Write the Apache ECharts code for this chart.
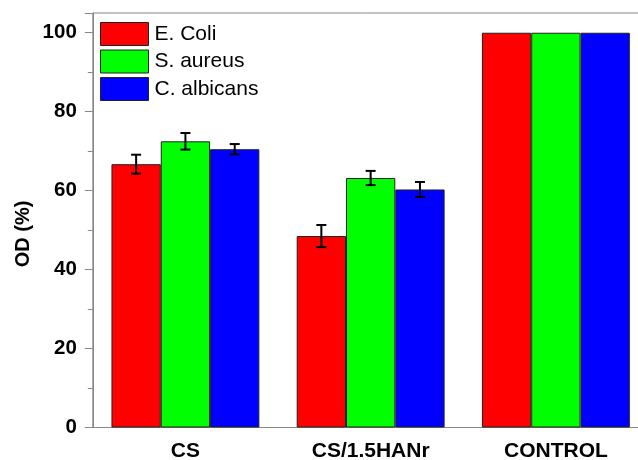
<!DOCTYPE html>
<html>
<head>
<meta charset="utf-8">
<script src="https://cdn.jsdelivr.net/npm/echarts@6/dist/echarts.min.js"></script>
<style>html,body{margin:0;padding:0;background:#fff}#c{width:638px;height:460px}</style>
</head>
<body>
<div id="c"></div>
<script>
const categories = ['CS', 'CS/1.5HANr', 'CONTROL'];
const seriesNames = ['E. Coli', 'S. aureus', 'C. albicans'];
const ecoli = [66.7, 48.5, 100];
const saureus = [72.5, 63.2, 100];
const calbicans = [70.5, 60.3, 100];
const ecoliErr = [2.4, 2.8, 0];
const saureusErr = [2.1, 1.8, 0];
const calbicansErr = [1.3, 1.9, 0];
const yTicks = [0, 20, 40, 60, 80, 100];

const colors = ['#ff0000', '#00ff00', '#0000ff'];
const values = [ecoli, saureus, calbicans];
const errs = [ecoliErr, saureusErr, calbicansErr];
const BAR_W = 49.3;
const font = '"Liberation Sans", Arial, sans-serif';

const chart = echarts.init(document.getElementById('c'));

const barSeries = values.map((v, i) => ({
  name: seriesNames[i],
  type: 'bar',
  xAxisIndex: 0,
  data: v,
  barWidth: BAR_W,
  barGap: '0%',
  itemStyle: { color: colors[i], borderColor: '#222', borderWidth: 1 },
  z: 2
}));

const errSeries = values.map((v, i) => ({
  type: 'custom',
  xAxisIndex: 0,
  data: v.map((val, k) => [k, val + errs[i][k], val - errs[i][k]]).filter((d, k) => errs[i][k] > 0),
  z: 5,
  renderItem: function (params, api) {
    const off = (i - 1) * BAR_W;
    const hi = api.coord([api.value(0), api.value(1)]);
    const lo = api.coord([api.value(0), api.value(2)]);
    const x = hi[0] + off;
    const cap = 5;
    const st = { stroke: '#000', lineWidth: 2 };
    return {
      type: 'group',
      children: [
        { type: 'line', shape: { x1: x, y1: hi[1], x2: x, y2: lo[1] }, style: st },
        { type: 'line', shape: { x1: x - cap, y1: hi[1], x2: x + cap, y2: hi[1] }, style: st },
        { type: 'line', shape: { x1: x - cap, y1: lo[1], x2: x + cap, y2: lo[1] }, style: st }
      ]
    };
  }
}));

chart.setOption({
  animation: false,
  backgroundColor: '#fff',
  grid: { left: 92.8, top: 13, height: 414.5, width: 555.7, outerBoundsMode: 'none', containLabel: false, show: true, borderColor: '#888', borderWidth: 1, backgroundColor: 'transparent' },
  legend: {
    data: seriesNames,
    orient: 'vertical',
    left: 100,
    top: 22,
    padding: 0,
    itemWidth: 48,
    itemHeight: 23,
    itemGap: 3.5,
    icon: 'rect',
    textStyle: { fontSize: 21, fontFamily: font, color: '#000', padding: [0, 0, 0, 1] },
    itemStyle: { borderColor: '#222', borderWidth: 1 }
  },
  xAxis: [
    {
      type: 'category',
      data: categories,
      position: 'bottom',
      axisLine: { lineStyle: { color: '#888', width: 1 } },
      axisTick: { alignWithLabel: true, length: 8, lineStyle: { color: '#888' } },
      axisLabel: { fontSize: 21, fontWeight: 'bold', fontFamily: font, color: '#000', margin: 13 }
    },
    {
      type: 'category',
      data: categories,
      position: 'bottom',
      axisLine: { show: false },
      axisTick: { alignWithLabel: false, length: 5, lineStyle: { color: '#888' } },
      axisLabel: { show: false }
    }
  ],
  yAxis: {
    type: 'value',
    min: 0,
    max: 105,
    interval: 20,
    axisLine: { show: true, lineStyle: { color: '#888', width: 1 } },
    axisTick: { show: true, length: 8, lineStyle: { color: '#888' } },
    minorTick: { show: true, splitNumber: 2, length: 5, lineStyle: { color: '#888' } },
    splitLine: { show: false },
    axisLabel: {
      fontSize: 20.5, fontWeight: 'bold', fontFamily: font, color: '#000', margin: 16,
      formatter: v => (yTicks.indexOf(v) >= 0 ? String(v) : '')
    }
  },
  graphic: [{
    type: 'text',
    x: 23,
    y: 234,
    rotation: Math.PI / 2,
    style: { text: 'OD (%)', fontSize: 20, fontWeight: 'bold', fontFamily: font, fill: '#000', align: 'center', verticalAlign: 'middle' },
    z: 10
  }],
  series: barSeries.concat(errSeries)
});
</script>
</body>
</html>
